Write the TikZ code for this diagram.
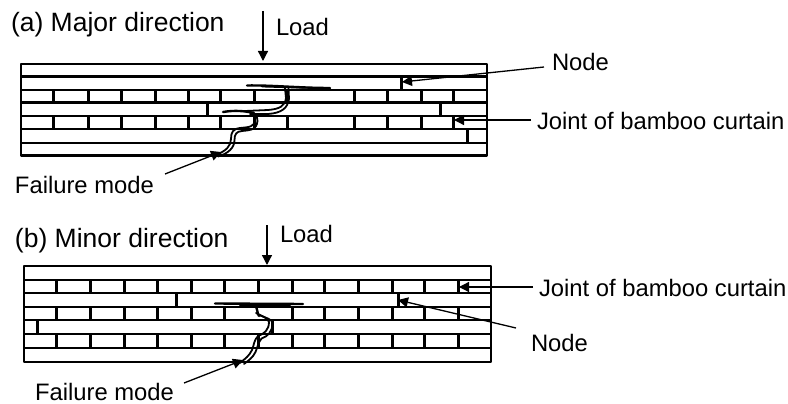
\documentclass[tikz,border=0pt]{standalone}
\usepackage{fontspec}
\setmainfont{Liberation Sans}
\usetikzlibrary{arrows.meta}
\tikzset{
  hline/.style={line width=2.3pt,black},
  vline/.style={line width=3pt,black},
  frameline/.style={line width=2.6pt,black,line join=round},
  crackline/.style={line width=1.8pt,black,line join=round,line cap=round},
  shelf/.style={line width=2.4pt,black,line cap=round},
  pointer/.style={line width=1.3pt,black,-{Triangle[length=10pt,width=10pt]}},
  lbl/.style={inner sep=0pt,outer sep=0pt,anchor=base west,font=\fontsize{23.8}{28}\selectfont},
  title/.style={inner sep=0pt,outer sep=0pt,anchor=base west,font=\fontsize{26.5}{32}\selectfont}
}
\begin{document}
\begin{tikzpicture}[x=1pt,y=-1pt]
\useasboundingbox (0,0) rectangle (788,404);
% --- panel (a)
\foreach \y in {76.5,90,102.5,116,129,143}{\draw[hline] (21,\y) -- (487,\y);}
\foreach \x in {53,88,121,155,188,220,254,287,354,387,421,453}{
  \draw[vline] (\x,90) -- (\x,102.5);
  \draw[vline] (\x,116) -- (\x,129);
}
\draw[vline] (207,102.5) -- (207,116);
\draw[vline] (440,102.5) -- (440,116);
\draw[vline] (401,76.5) -- (401,90);
\draw[vline] (467,129) -- (467,143);
\draw[frameline] (21,64) rectangle (487,155.5);
% crack (a)
\draw[shelf] (247,85.5) .. controls (270,85) and (300,88) .. (330,88);
\draw[crackline] (262,86.5) -- (330,88.5);
\draw[crackline] (285,88) -- (286,98) .. controls (285,106) and (280,109) .. (268,110) -- (245,111);
\draw[crackline] (288.5,88) -- (289,99) .. controls (287.5,108) and (282,113) .. (268,114) -- (250,114);
\draw[shelf] (223,112) .. controls (235,110) and (245,111) .. (254,113);
\draw[crackline] (253,113) -- (255,120) .. controls (254,127) and (250,127) .. (240,128)
  .. controls (233,129) and (231,132) .. (231,139) .. controls (231,146) and (226,151) .. (216,155);
\draw[crackline] (256.5,114) -- (257.5,121) .. controls (256.5,129.5) and (252,130) .. (242,131)
  .. controls (236.5,131.5) and (234.5,134) .. (234.5,140) .. controls (234.5,148) and (228,153.5) .. (218,156.5);
% --- panel (b)
\foreach \y in {280,293,307,320,334,348}{\draw[hline] (24,\y) -- (491,\y);}
\foreach \x in {56,90,124,157,191,224,258,292,324,358,392,424,458}{
  \draw[vline] (\x,280) -- (\x,293);
  \draw[vline] (\x,334) -- (\x,348);
}
\foreach \x in {56,90,124,157,191,224,292,324,358,392,424,458}{
  \draw[vline] (\x,307) -- (\x,320);
}
\draw[vline] (176,293) -- (176,307);
\draw[vline] (398,293) -- (398,307);
\draw[vline] (37,320) -- (37,334);
\draw[vline] (272,320) -- (272,334);
\draw[frameline] (24,266) rectangle (491,362);
% crack (b)
\draw[shelf] (215,303.5) -- (303,304);
\draw[crackline,line width=2.4pt] (240,305) -- (290,305);
\draw[crackline,line width=2.4pt] (255,305) .. controls (258,309) and (257,314) .. (259,316);
\draw[crackline] (256,313) .. controls (262,316) and (268,318) .. (269,322) .. controls (269,330) and (264,334) .. (258,336)
  .. controls (254,340) and (254,345) .. (252,350) .. controls (249,356) and (246,358) .. (240,363);
\draw[crackline] (259,315) .. controls (266,318) and (272,319) .. (272.5,323) .. controls (272.5,332) and (267.5,336.5) .. (261.5,338.5)
  .. controls (258.5,342) and (257.5,347) .. (255.5,352) .. controls (252.5,358) and (249,360) .. (244,364);
% --- labels
\node[title] (titleA) at (11,32) {(a) Major direction};
\node[title] (titleB) at (15,247) {(b) Minor direction};
\node[lbl] (loadA) at (276,36) {Load};
\node[lbl] (loadB) at (280,242) {Load};
\node[lbl] (nodeA) at (552,71) {Node};
\node[lbl] (jointA) at (537,129) {Joint of bamboo curtain};
\node[lbl] (failA) at (15,193) {Failure mode};
\node[lbl] (jointB) at (539,296) {Joint of bamboo curtain};
\node[lbl] (nodeB) at (531,351) {Node};
\node[lbl] (failB) at (35,400) {Failure mode};
% --- connector ends
\coordinate (loadAs) at (263,11);
\coordinate (loadAt) at (263,61);
\coordinate (loadBs) at (267,225);
\coordinate (loadBt) at (267,265);
\coordinate (nodeAs) at (544,67);
\coordinate (nodeAt) at (402,82);
\coordinate (jointAs) at (531,120);
\coordinate (jointAt) at (454,120);
\coordinate (failAs) at (165,174);
\coordinate (failAt) at (221,152);
\coordinate (jointBs) at (533,287);
\coordinate (jointBt) at (459,287);
\coordinate (nodeBs) at (516,328);
\coordinate (nodeBt) at (398,300);
\coordinate (failBs) at (184,383);
\coordinate (failBt) at (243,360);
\draw[pointer] (loadAs) -- (loadAt);
\draw[pointer] (loadBs) -- (loadBt);
\draw[pointer] (nodeAs) -- (nodeAt);
\draw[pointer] (jointAs) -- (jointAt);
\draw[pointer] (failAs) -- (failAt);
\draw[pointer] (jointBs) -- (jointBt);
\draw[pointer] (nodeBs) -- (nodeBt);
\draw[pointer] (failBs) -- (failBt);
\end{tikzpicture}
\end{document}
